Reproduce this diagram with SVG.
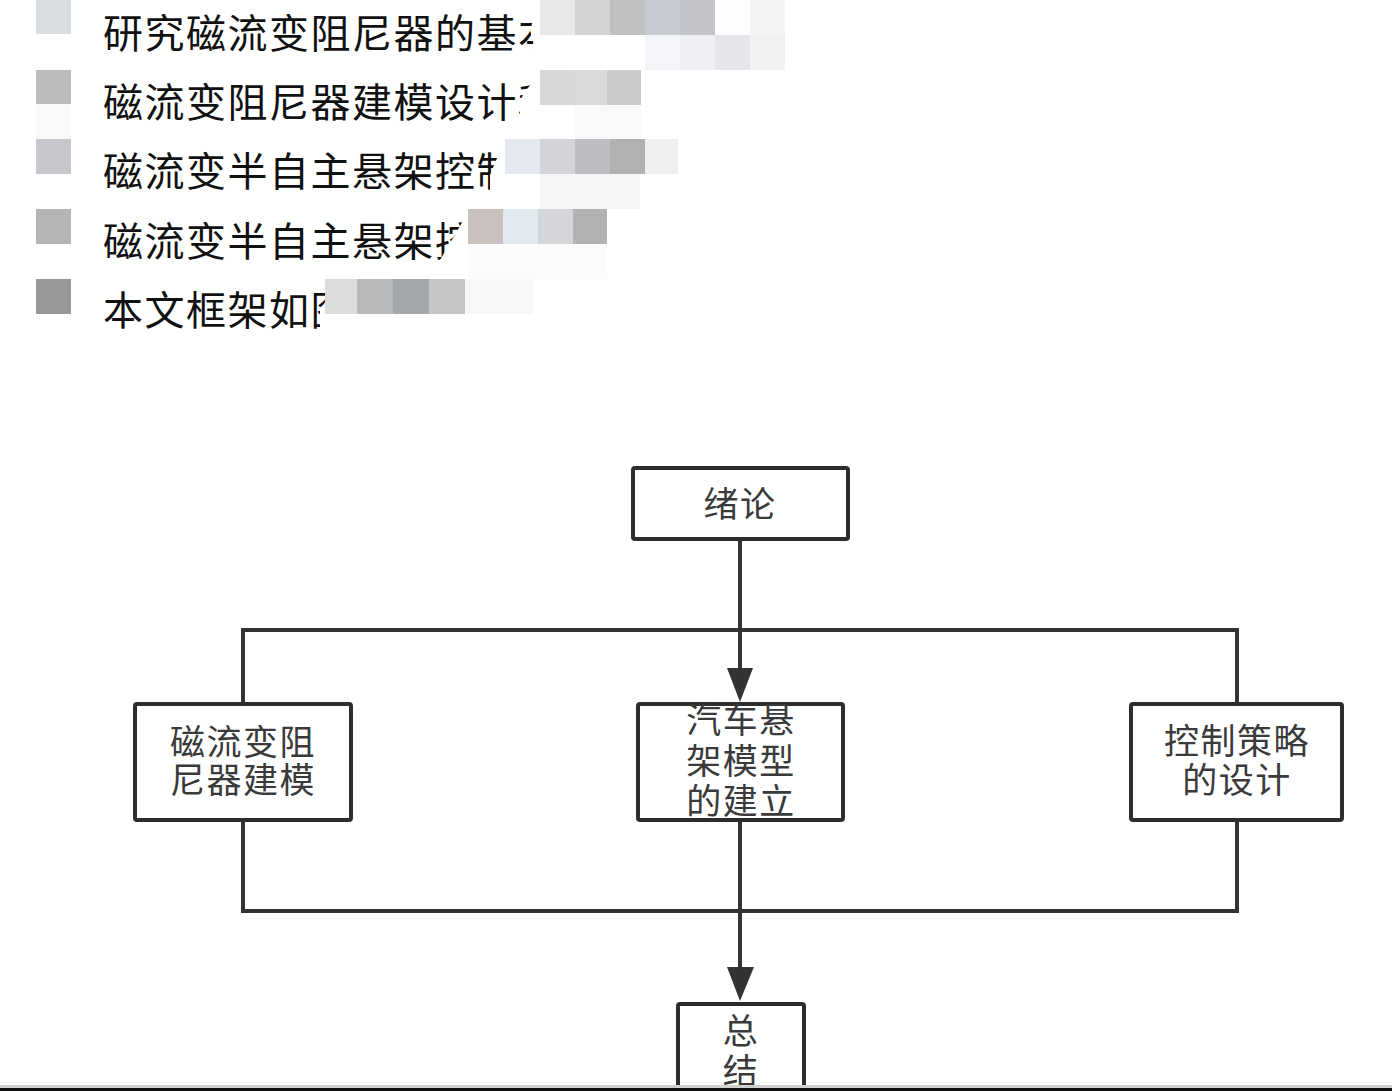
<svg xmlns="http://www.w3.org/2000/svg" width="1392" height="1091" viewBox="0 0 1392 1091">
<style>
.top{font-family:"Noto Sans CJK SC","Noto Sans",sans-serif;font-size:40px;fill:#111;letter-spacing:1.5px}
.box{fill:#fff;stroke:#2d2d2d;stroke-width:4}
.lbl{font-family:"Noto Sans CJK SC","Noto Sans",sans-serif;font-size:35px;fill:#3a3a3a;text-anchor:middle;letter-spacing:1.5px}
.con{fill:none;stroke:#333;stroke-width:4}
</style>
<rect width="1392" height="1091" fill="#fff"/>
<g id="intro-text">
<rect x="36" y="0" width="35" height="34" fill="#d9dce1"/>
<rect x="36" y="70" width="35" height="34" fill="#bdbbbd"/>
<rect x="36" y="104" width="35" height="35" fill="#fafafa"/>
<rect x="36" y="139" width="35" height="35" fill="#c6c7cc"/>
<rect x="36" y="209" width="35" height="35" fill="#b5b5b7"/>
<rect x="36" y="279" width="35" height="35" fill="#97979a"/>
<text class="top" x="103" y="48">研究磁流变阻尼器的基本</text>
<text class="top" x="103" y="117">磁流变阻尼器建模设计和</text>
<text class="top" x="103" y="186">磁流变半自主悬架控制</text>
<text class="top" x="103" y="256">磁流变半自主悬架控制</text>
<text class="top" x="103" y="325">本文框架如图</text>
<polygon points="540,0 800,0 800,70 540,70 530,30" fill="#fff"/>
<rect x="540" y="0" width="35" height="35" fill="#e7e8ea"/>
<rect x="575" y="0" width="35" height="35" fill="#d3d3d3"/>
<rect x="610" y="0" width="35" height="35" fill="#bfc0c0"/>
<rect x="645" y="0" width="35" height="35" fill="#c7cbd2"/>
<rect x="680" y="0" width="35" height="35" fill="#c3c4c8"/>
<rect x="715" y="0" width="35" height="35" fill="#fdfdfd"/>
<rect x="750" y="0" width="35" height="35" fill="#f3f4f6"/>
<rect x="645" y="35" width="35" height="35" fill="#f3f5f8"/>
<rect x="680" y="35" width="35" height="35" fill="#eef0f3"/>
<rect x="715" y="35" width="35" height="35" fill="#e5e6e9"/>
<rect x="750" y="35" width="35" height="35" fill="#f0f2f4"/>
<polygon points="540,70 660,70 660,139 520,139 520,100" fill="#fff"/>
<rect x="540" y="70" width="35" height="35" fill="#d8d8da"/>
<rect x="575" y="70" width="35" height="35" fill="#dadadc"/>
<rect x="607" y="70" width="34" height="35" fill="#cbcbcd"/>
<rect x="575" y="105" width="66" height="34" fill="#f9f9f9"/>
<polygon points="505,139 690,139 690,209 490,209 490,175" fill="#fff"/>
<rect x="505" y="139" width="35" height="35" fill="#e4e9f1"/>
<rect x="540" y="139" width="35" height="35" fill="#d3d4d8"/>
<rect x="575" y="139" width="35" height="35" fill="#bdbec2"/>
<rect x="610" y="139" width="35" height="35" fill="#b3b0b0"/>
<rect x="645" y="139" width="33" height="35" fill="#efefef"/>
<rect x="540" y="174" width="100" height="35" fill="#f6f6f6"/>
<polygon points="470,209 620,209 620,279 440,279 440,260" fill="#fff"/>
<rect x="468" y="209" width="35" height="35" fill="#c9c1bd"/>
<rect x="503" y="209" width="35" height="35" fill="#e3e9f1"/>
<rect x="538" y="209" width="35" height="35" fill="#d4d5d8"/>
<rect x="573" y="209" width="34" height="35" fill="#b2b2b4"/>
<rect x="468" y="244" width="139" height="35" fill="#fbfbfb"/>
<polygon points="340,279 540,279 540,330 320,330 320,310" fill="#fff"/>
<rect x="325" y="279" width="32" height="35" fill="#dcdcdc"/>
<rect x="357" y="279" width="36" height="35" fill="#b9b9ba"/>
<rect x="393" y="279" width="36" height="35" fill="#a3a6ab"/>
<rect x="429" y="279" width="36" height="35" fill="#c6c6c6"/>
<rect x="465" y="279" width="68" height="35" fill="#f7f7f7"/>
</g>
<g id="connectors">
<path class="con" d="M243,703 V630 H1237 V703"/>
<path class="con" d="M243,821 V911 H1237 V821"/>
<line class="con" x1="740" y1="540" x2="740" y2="672"/>
<polygon points="727,668 753,668 740,702" fill="#333"/>
<line class="con" x1="740" y1="821" x2="740" y2="970"/>
<polygon points="727,967 754,967 740,1001" fill="#333"/>
</g>
<g id="node-intro">
<rect class="box" x="633" y="468" width="215" height="71" rx="2"/>
<text class="lbl" x="740" y="517">绪论</text>
</g>
<g id="node-mr">
<rect class="box" x="135" y="704" width="216" height="116" rx="2"/>
<text class="lbl" x="243" y="755">磁流变阻</text>
<text class="lbl" x="243" y="793">尼器建模</text>
</g>
<g id="node-suspension">
<rect class="box" x="638" y="704" width="205" height="116" rx="2"/>
<text class="lbl" x="741" y="733">汽车悬</text>
<text class="lbl" x="741" y="774">架模型</text>
<text class="lbl" x="741" y="814">的建立</text>
</g>
<g id="node-control">
<rect class="box" x="1131" y="704" width="211" height="116" rx="2"/>
<text class="lbl" x="1237" y="754">控制策略</text>
<text class="lbl" x="1237" y="793">的设计</text>
</g>
<g id="node-summary">
<rect class="box" x="678" y="1004" width="126" height="100" rx="2"/>
<text class="lbl" x="741" y="1044">总</text>
<text class="lbl" x="741" y="1084">结</text>
</g>
<rect x="0" y="1085" width="1392" height="3" fill="#d0d0d0"/>
<rect x="0" y="1088" width="1392" height="3" fill="#111"/>
</svg>
